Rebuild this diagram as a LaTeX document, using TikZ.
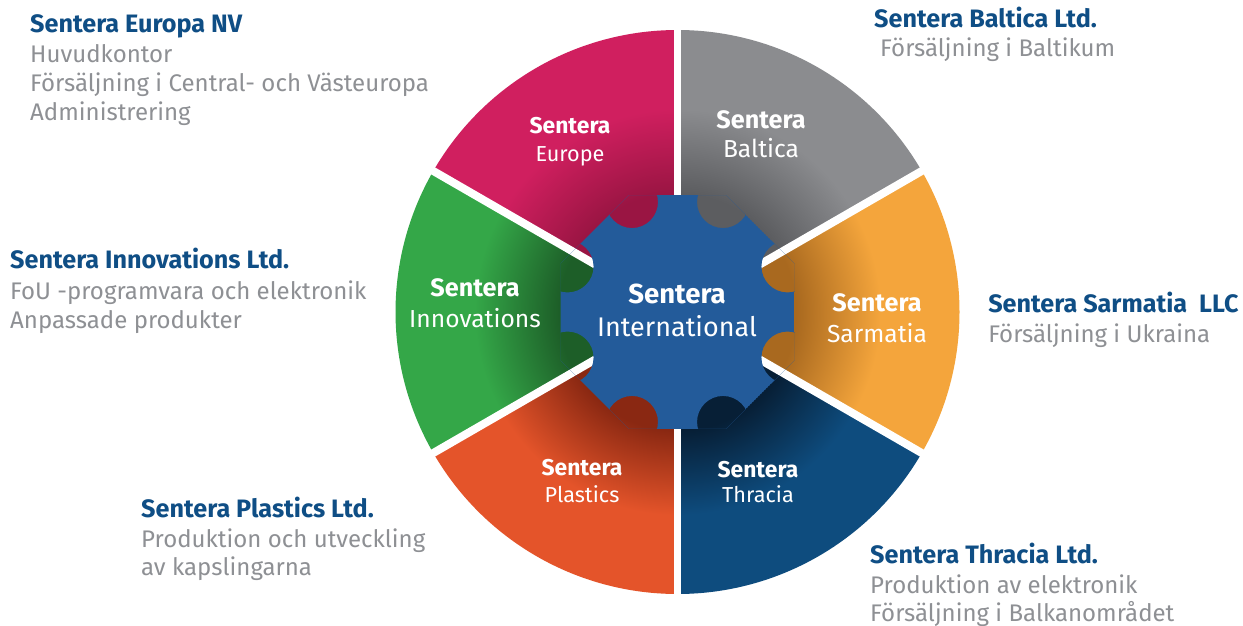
\documentclass[tikz,border=0pt]{standalone}
\usepackage{fontspec}
\setmainfont{Fira Sans}
\definecolor{ttl}{HTML}{0F4E85}
\definecolor{dsc}{HTML}{8E9094}
\definecolor{ceu}{HTML}{D01F5F}\definecolor{deu}{HTML}{9A1543}
\definecolor{cba}{HTML}{8B8C8F}\definecolor{dba}{HTML}{5C5D60}
\definecolor{csa}{HTML}{F4A53C}\definecolor{dsa}{HTML}{A9691F}
\definecolor{cth}{HTML}{0E4C7E}\definecolor{dth}{HTML}{071F36}
\definecolor{cpl}{HTML}{E4542A}\definecolor{dpl}{HTML}{8A2812}
\definecolor{cin}{HTML}{34A748}\definecolor{din}{HTML}{1D5E28}
\definecolor{gearc}{HTML}{235B9A}
\colorlet{secin}{black}\colorlet{secout}{white}
\pgfdeclareradialshading[secin,secout]{secshade}{\pgfpoint{0bp}{0bp}}{color(0bp)=(secin); color(10.5bp)=(secin); color(18bp)=(secout); color(25bp)=(secout); color(50bp)=(secout)}
\tikzset{
  ttlbox/.style={anchor=base west, inner sep=0pt, text=ttl, font=\fontsize{21.5}{25}\selectfont\bfseries},
  dscbox/.style={anchor=base west, inner sep=0pt, text=dsc, font=\fontsize{20.5}{25}\selectfont},
  sbold/.style={anchor=base, inner sep=0pt, text=white, font=\fontsize{#1}{20}\selectfont\bfseries},
  sreg/.style={anchor=base, inner sep=0pt, text=white, font=\fontsize{#1}{20}\selectfont},
  gapline/.style={white, line width=6.8pt}
}
\newcommand{\sector}[4]{%
  \begin{scope}
    \clip (0,0) -- (#1:282) arc[start angle=#1, end angle=#2, radius=282] -- cycle;
    \colorlet{secin}{#4}\colorlet{secout}{#3}
    \shade[shading=secshade] (0,0) circle (282);
  \end{scope}}
\begin{document}
\begin{tikzpicture}[x=0.03cm, y=-0.03cm]
\useasboundingbox[fill=white] (0,0) rectangle (1243,626);
\begin{scope}[shift={(677.5,312)}]
  % sectors (angles measured clockwise on the page)
  \sector{210}{270}{ceu}{deu}
  \sector{270}{330}{cba}{dba}
  \sector{-30}{30}{csa}{dsa}
  \sector{30}{90}{cth}{dth}
  \sector{90}{150}{cpl}{dpl}
  \sector{150}{210}{cin}{din}
  \coordinate (c0) at (0,0);
  \foreach \a [count=\i] in {30,90,150,210,270,330}
    \coordinate (g\i) at (\a:292);
  \foreach \i in {1,...,6}
    \draw[gapline] (c0) -- (g\i);
  % gear
  \begin{scope}
    \clip (22.5:126.64) \foreach \a in {67.5,112.5,...,337.5}{ -- (\a:126.64) } -- cycle;
    \fill[gearc, even odd rule] (22.5:126.64) \foreach \a in {67.5,112.5,...,337.5}{ -- (\a:126.64) } -- cycle
      \foreach \a in {22.5,67.5,...,337.5}{ (\a:119) circle (26) };
  \end{scope}
\end{scope}
% center labels
\node[sbold=23.5] (ci1) at (677,303) {Sentera};
\node[sreg=23] (ci2) at (677,336) {International};
% sector labels
\node[sbold=19.5] (se1) at (570,134) {Sentera};
\node[sreg=18.5] (se2) at (570,162) {Europe};
\node[sbold=21.5] (sb1) at (761,129) {Sentera};
\node[sreg=21] (sb2) at (761,158) {Baltica};
\node[sbold=21.5] (ss1) at (877,311) {Sentera};
\node[sreg=21] (ss2) at (877,342) {Sarmatia};
\node[sbold=19.5] (st1) at (758,477) {Sentera};
\node[sreg=18.5] (st2) at (758,502) {Thracia};
\node[sbold=19.5] (sp1) at (582,475) {Sentera};
\node[sreg=18.5] (sp2) at (582,502) {Plastics};
\node[sbold=21.5] (si1) at (475,297) {Sentera};
\node[sreg=21] (si2) at (475,327) {Innovations};
% descriptions
\node[ttlbox] (teu) at (30,33) {Sentera Europa NV};
\node[dscbox] (deu1) at (30,63) {Huvudkontor};
\node[dscbox] (deu2) at (30,92) {Försäljning i Central- och Västeuropa};
\node[dscbox] (deu3) at (30,121) {Administrering};
\node[ttlbox] (tba) at (874,28) {Sentera Baltica Ltd.};
\node[dscbox] (dba1) at (880,57) {Försäljning i Baltikum};
\node[ttlbox] (tin) at (10,269) {Sentera Innovations Ltd.};
\node[dscbox] (din1) at (10,299) {FoU -programvara och elektronik};
\node[dscbox] (din2) at (10,328) {Anpassade produkter};
\node[ttlbox] (tsa) at (988,312) {Sentera Sarmatia\ \ LLC};
\node[dscbox] (dsa1) at (988,342) {Försäljning i Ukraina};
\node[ttlbox] (tpl) at (141,517) {Sentera Plastics Ltd.};
\node[dscbox] (dpl1) at (141,547) {Produktion och utveckling};
\node[dscbox] (dpl2) at (141,575) {av kapslingarna};
\node[ttlbox] (tth) at (870,563) {Sentera Thracia Ltd.};
\node[dscbox] (dth1) at (870,593) {Produktion av elektronik};
\node[dscbox] (dth2) at (870,621) {Försäljning i Balkanområdet};
\end{tikzpicture}
\end{document}
